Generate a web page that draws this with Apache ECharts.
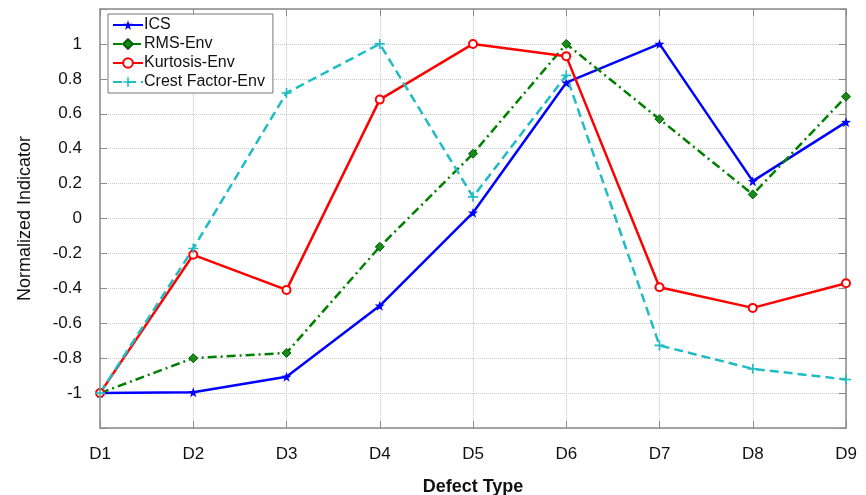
<!DOCTYPE html>
<html>
<head>
<meta charset="utf-8">
<script src="https://cdn.jsdelivr.net/npm/echarts@6/dist/echarts.min.js"></script>
<style>
html,body{margin:0;padding:0;background:#fff;}
#chart{width:866px;height:495px;}
</style>
</head>
<body>
<div id="chart"></div>
<script>
var categories = ['D1','D2','D3','D4','D5','D6','D7','D8','D9'];
var icsValues = [-1.0, -0.995, -0.907, -0.50, 0.033, 0.778, 1.0, 0.214, 0.552];
var rmsValues = [-1.0, -0.80, -0.77, -0.162, 0.371, 1.0, 0.569, 0.138, 0.698];
var kurtosisValues = [-1.0, -0.208, -0.409, 0.681, 1.0, 0.93, -0.394, -0.512, -0.371];
var crestValues = [-1.0, -0.172, 0.719, 1.0, 0.124, 0.82, -0.727, -0.861, -0.922];
var yTicks = [-1.2, 1.2, 0.2];

var FONT = '"Liberation Sans", Arial, sans-serif';
var starPath = 'path://M0,-10 L2.35,-3.24 L9.51,-3.09 L3.8,1.24 L5.88,8.09 L0,4 L-5.88,8.09 L-3.8,1.24 L-9.51,-3.09 L-2.35,-3.24 Z';
var plusPath = 'path://M-1,-6 L1,-6 L1,-1 L6,-1 L6,1 L1,1 L1,6 L-1,6 L-1,1 L-6,1 L-6,-1 L-1,-1 Z';
var frameColor = '#8a8a8a';
var gridColor = '#c8c8c8';

var chart = echarts.init(document.getElementById('chart'));
chart.setOption({
  animation: false,
  backgroundColor: '#fff',
  grid: {left: 100, right: 20, top: 9, bottom: 67, containLabel: false, outerBoundsMode: 'none'},
  legend: {
    left: 108, top: 14, orient: 'vertical',
    backgroundColor: '#fff', borderColor: '#777', borderWidth: 1,
    padding: [3, 8, 3, 4], itemGap: 3, itemWidth: 30, itemHeight: 12,
    textStyle: {fontFamily: FONT, fontSize: 16, color: '#111', padding: [0,0,0,-4]},
    data: ['ICS', 'RMS-Env', 'Kurtosis-Env', 'Crest Factor-Env']
  },
  xAxis: [{
    type: 'category', data: categories, boundaryGap: false,
    name: 'Defect Type', nameLocation: 'middle', nameGap: 50,
    nameTextStyle: {fontFamily: FONT, fontSize: 18, fontWeight: 'bold', color: '#111'},
    axisLine: {show: true, onZero: false, lineStyle: {color: frameColor, width: 1.5}},
    axisTick: {show: true, inside: true, length: 7, alignWithLabel: true, lineStyle: {color: frameColor}},
    axisLabel: {fontFamily: FONT, fontSize: 17, color: '#111', margin: 18},
    splitLine: {show: true, lineStyle: {type: 'dotted', color: gridColor, width: 1}}
  }, {
    type: 'category', data: categories, boundaryGap: false, position: 'top',
    axisLine: {show: true, onZero: false, lineStyle: {color: frameColor, width: 1.5}},
    axisTick: {show: true, inside: true, length: 7, lineStyle: {color: frameColor}},
    axisLabel: {show: false}, splitLine: {show: false}
  }],
  yAxis: [{
    type: 'value', min: yTicks[0], max: yTicks[1], interval: yTicks[2],
    name: 'Normalized Indicator', nameLocation: 'middle', nameGap: 66,
    nameTextStyle: {fontFamily: FONT, fontSize: 18, color: '#111'},
    axisLine: {show: true, onZero: false, lineStyle: {color: frameColor, width: 1.5}},
    axisTick: {show: true, inside: true, length: 7, lineStyle: {color: frameColor}},
    axisLabel: {fontFamily: FONT, fontSize: 17, color: '#111', margin: 18,
      formatter: function (v) { var r = Math.round(v * 10) / 10; return Math.abs(r) > 1.05 ? '' : String(r); }},
    splitLine: {show: true, lineStyle: {type: 'dotted', color: gridColor, width: 1}}
  }, {
    type: 'value', min: yTicks[0], max: yTicks[1], interval: yTicks[2], position: 'right',
    axisLine: {show: true, onZero: false, lineStyle: {color: frameColor, width: 1.5}},
    axisTick: {show: true, inside: true, length: 7, lineStyle: {color: frameColor}},
    axisLabel: {show: false}, splitLine: {show: false}
  }],
  series: [{
    name: 'ICS', type: 'line', data: icsValues,
    symbol: starPath, symbolSize: 10,
    itemStyle: {color: '#0000ff'},
    lineStyle: {color: '#0000ff', width: 2.5}
  }, {
    name: 'RMS-Env', type: 'line', data: rmsValues,
    symbol: 'diamond', symbolSize: 9,
    itemStyle: {color: '#1a8a1a', borderColor: '#006000', borderWidth: 1},
    lineStyle: {color: '#008000', width: 2.5, type: [9, 4, 2, 4]}
  }, {
    name: 'Kurtosis-Env', type: 'line', data: kurtosisValues,
    symbol: 'circle', symbolSize: 8,
    itemStyle: {color: '#ffffff', borderColor: '#ff0000', borderWidth: 2},
    lineStyle: {color: '#ff0000', width: 2.5}
  }, {
    name: 'Crest Factor-Env', type: 'line', data: crestValues,
    symbol: plusPath, symbolSize: 10,
    itemStyle: {color: '#1fbcc4'},
    lineStyle: {color: '#1fbcc4', width: 2.5, type: [9, 5]}
  }]
});
</script>
</body>
</html>
